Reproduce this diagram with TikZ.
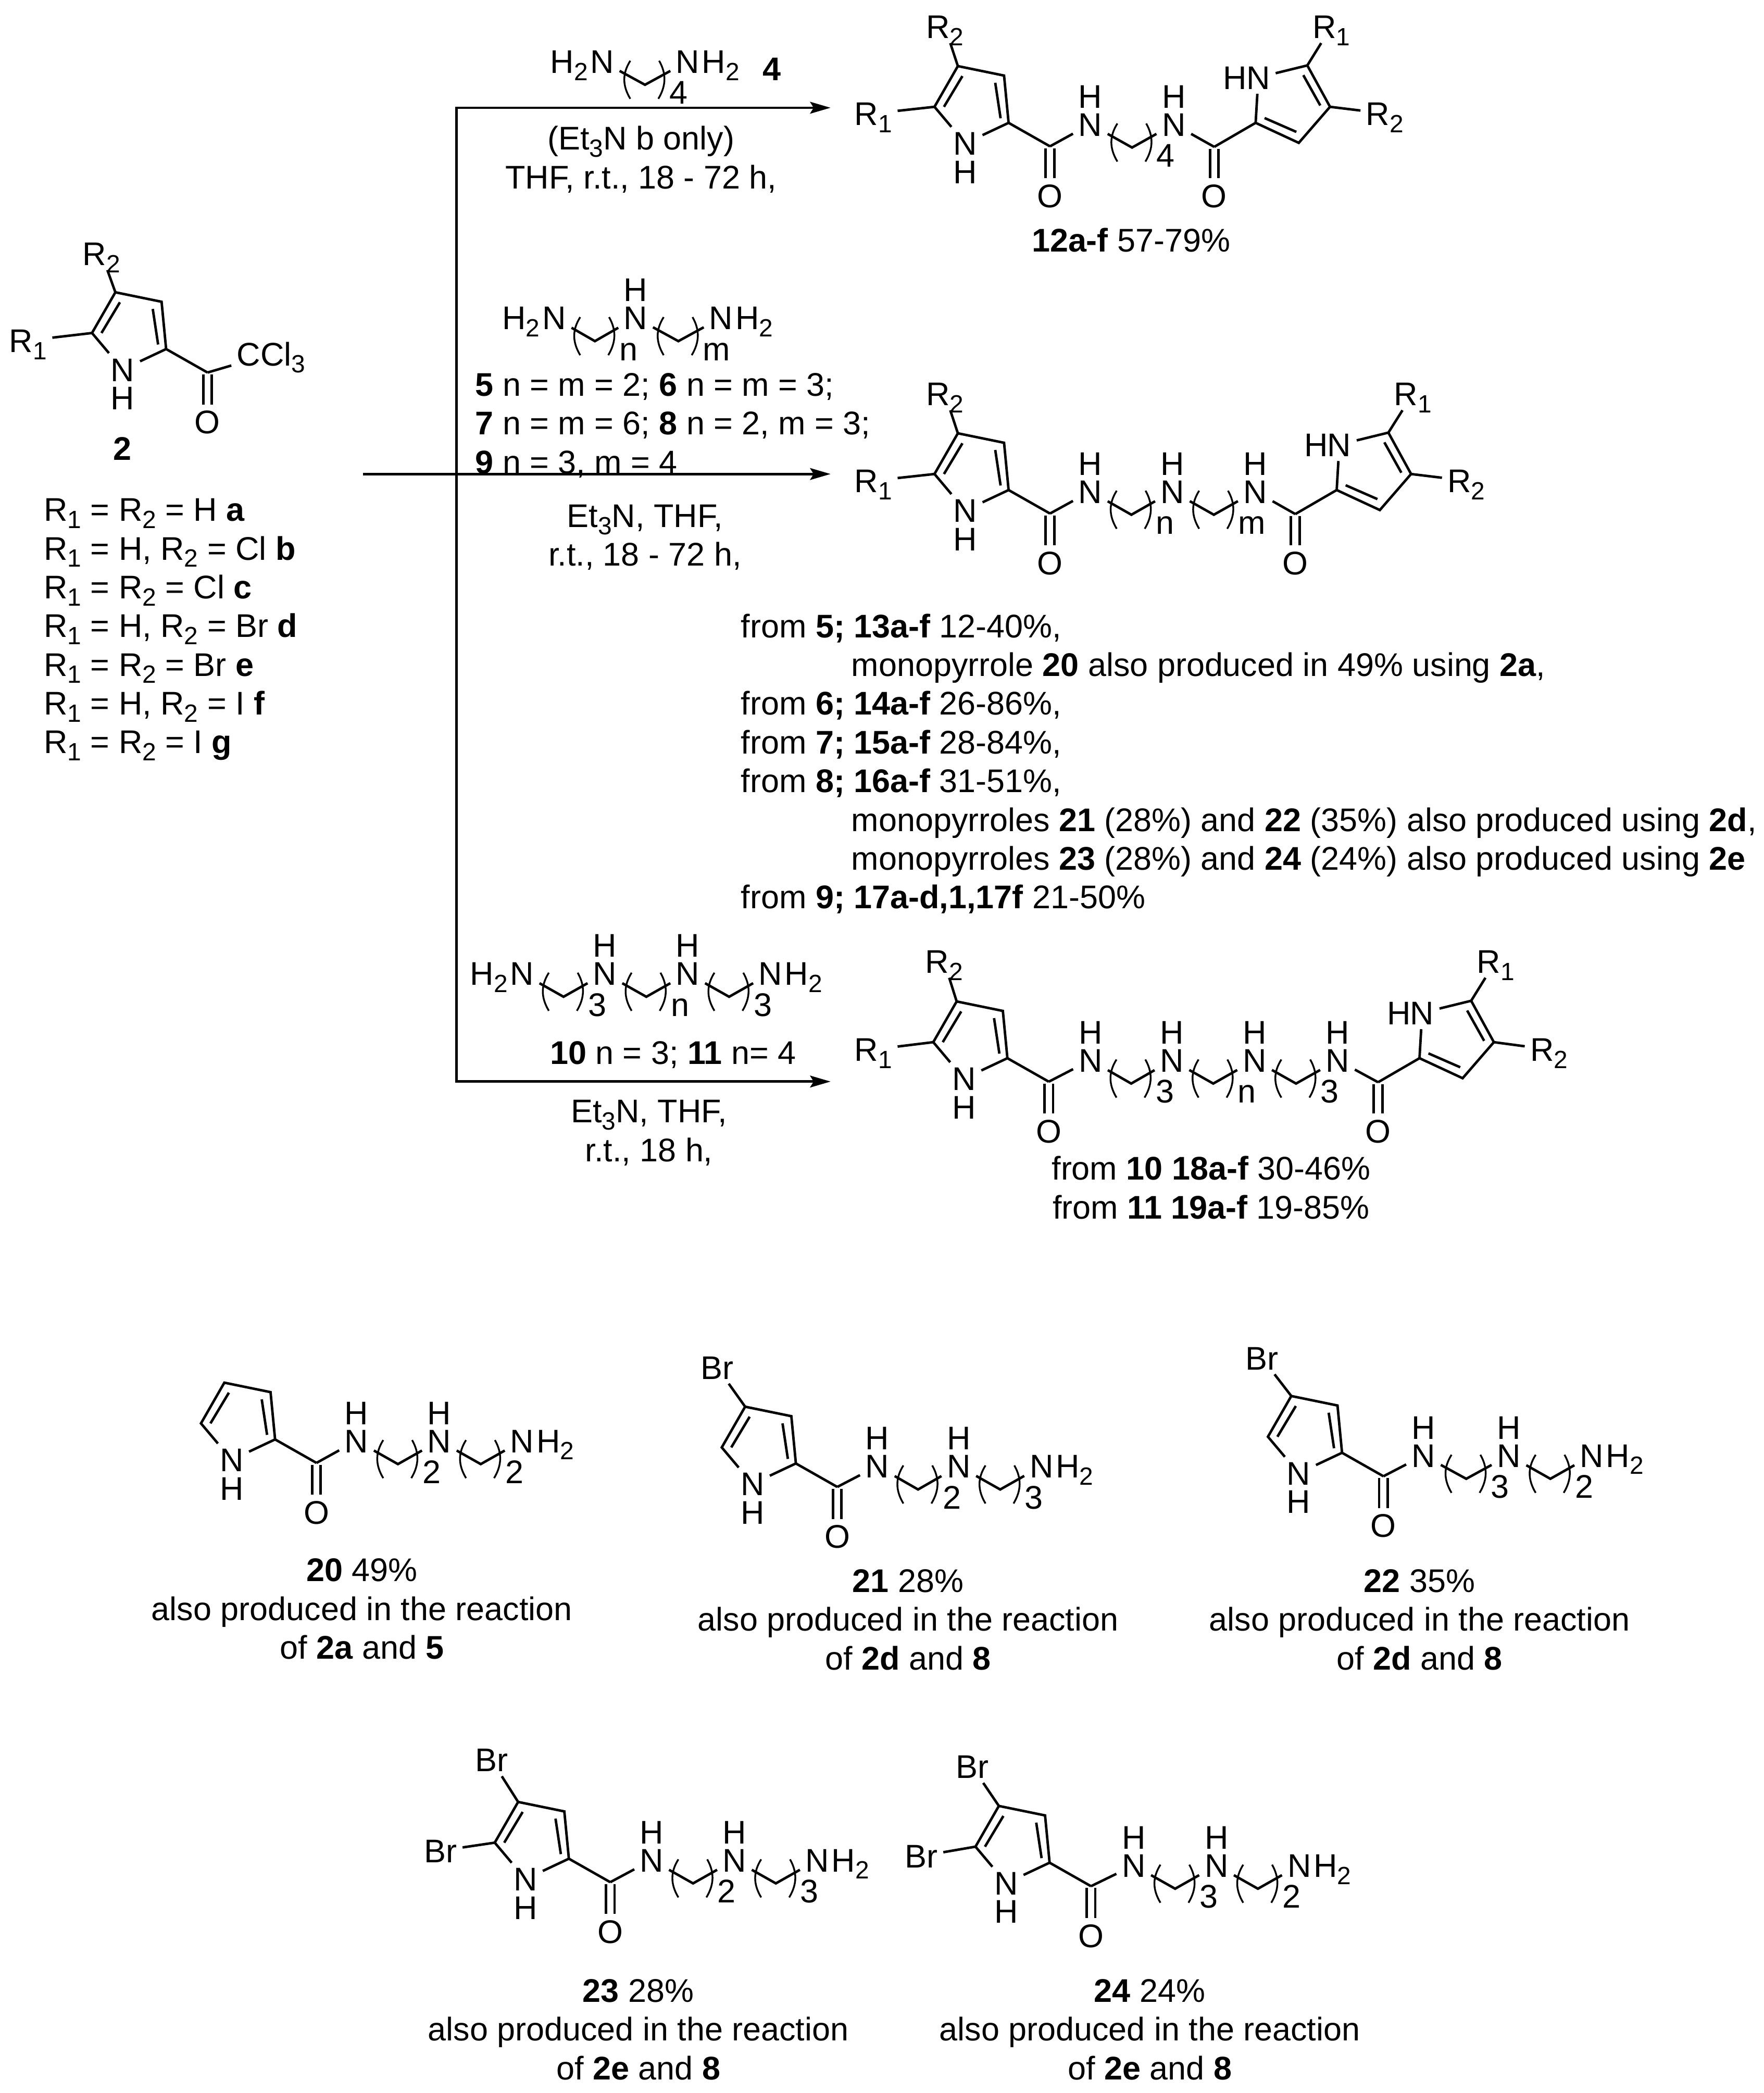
\documentclass[tikz,border=0pt]{standalone}
\usepackage{fontspec}
\setmainfont{Liberation Sans}
\usetikzlibrary{calc,arrows.meta}

\newcommand{\sbs}[1]{\raisebox{-4pt}{\fontsize{14}{14}\selectfont #1}}
\newcommand{\bodyfont}{\fontsize{18.4}{21.75}\selectfont}

\tikzset{
  every picture/.style={line width=1.4pt},
  bond/.style={line width=1.4pt,line join=miter},
  brack/.style={line width=1pt},
  atom/.style={font=\bodyfont,inner xsep=2.4pt,inner ysep=1.9pt,text height=13.2pt,text depth=0pt},
  hatoms/.style={font=\bodyfont,inner sep=0pt},
  chainsub/.style={font=\bodyfont,inner sep=0pt},
  txt/.style={font=\bodyfont,inner sep=0pt},
  rxnarrow/.style={line width=1.4pt,-{Stealth[length=11.5pt,width=6.6pt,inset=2pt]}}
}

% pyrrole, acyl at right
\newcommand{\pyrL}[3]{%
  \begin{scope}[shift={(#2,#3)},name prefix=#1]
    \coordinate (c2) at (0,0);
    \coordinate (c3) at (-3.4,-35.4);
    \coordinate (c4) at (-38,-42.5);
    \coordinate (c5) at (-55.5,-12);
    \coordinate (CO) at (31,17.6);
    \node[atom] (N1) at (-32.5,15.3) {N};
    \node[atom] (H1) at (-32.5,36.5) {H};
    \node[atom] (O) at (31,54.5) {O};
    \draw[bond] (c2) -- (c3) -- (c4) -- (c5) -- (N1) -- (c2) -- (CO);
    \draw[bond] (-34.6,-35) -- (-48.4,-12);
    \draw[bond] (-10,-30) -- (-6,-3.4);
    \draw[bond] (27.8,19) -- (27.8,41.5);
    \draw[bond] (34.2,19) -- (34.2,41.5);
  \end{scope}}

% pyrrole, acyl at left
\newcommand{\pyrR}[3]{%
  \begin{scope}[shift={(#2,#3)},name prefix=#1]
    \coordinate (c2) at (0,0);
    \coordinate (c3) at (32.3,15);
    \coordinate (c4) at (55.7,-12);
    \coordinate (c5) at (38.7,-43);
    \coordinate (CO) at (-31,18);
    \node[atom] (N1) at (2,-34) {N};
    \node[atom] (H1) at (-15.5,-34) {H};
    \node[atom] (O) at (-31,54.6) {O};
    \draw[bond] (c2) -- (c3) -- (c4) -- (c5) -- (N1) -- (c2) -- (CO);
    \draw[bond] (6.7,-3.6) -- (30.5,6.8);
    \draw[bond] (48.4,-13) -- (35.7,-35.7);
    \draw[bond] (-34.2,19.4) -- (-34.2,41.5);
    \draw[bond] (-27.8,19.4) -- (-27.8,41.5);
  \end{scope}}

% NH with the H above
\newcommand{\nhgroup}[3]{%
  \node[atom] (#1) at (#2,#3) {N};
  \node[atom] (#1H) at (#2,#3-21) {H};}
% terminal amines
\newcommand{\amineR}[3]{%
  \node[atom] (#1) at (#2,#3) {N};
  \node[hatoms,anchor=base west] (#1H) at ($(#1.base east)+(-3.2,0)$) {H\sbs{2}};}
\newcommand{\amineL}[3]{%
  \node[atom] (#1) at (#2,#3) {N};
  \node[hatoms,anchor=base east] (#1H) at ($(#1.base west)+(3.2,0)$) {H\sbs{2}};}
% (CH2)n between two nitrogens
\newcommand{\chainlink}[3]{%
  \coordinate (#1mid) at ($(#1)!0.5!(#2)$);
  \draw[bond] (#1) -- ($(#1mid)+(0,17.5)$) -- (#2);
  \draw[brack] ($(#1mid)+(-11,-0.5)$) .. controls ($(#1mid)+(-17,9)$) and ($(#1mid)+(-17,18)$) .. ($(#1mid)+(-11,28)$);
  \draw[brack] ($(#1mid)+(10.6,-0.5)$) .. controls ($(#1mid)+(16,9)$) and ($(#1mid)+(16,18)$) .. ($(#1mid)+(10,28)$);
  \node[chainsub,anchor=base west] (#1sub) at ($(#1mid)+(17.5,32)$) {#3};}

\begin{document}
\begin{tikzpicture}[x=0.75pt,y=0.75pt,yscale=-1,xscale=1]
\useasboundingbox (0,0) rectangle (1321,1567.5);

% Compound 2
\pyrL{A}{124.4}{261.4}
\node[atom] (AR2) at (76,190) {R\sbs{2}};
\node[atom] (AR1) at (21,255) {R\sbs{1}};
\node[atom] (ACCl) at (203,265) {CCl\sbs{3}};
\draw[bond] (AR2) -- (Ac4);
\draw[bond] (AR1) -- (Ac5);
\draw[bond] (ACO) -- (ACCl);
\node[txt] (Alabel) at (91.5,336) {\textbf{2}};
\node[txt,align=left,anchor=west] (Alist) at (32,471.5) {%
R\sbs{1} = R\sbs{2} = H \textbf{a}\\
R\sbs{1} = H, R\sbs{2} = Cl \textbf{b}\\
R\sbs{1} = R\sbs{2} = Cl \textbf{c}\\
R\sbs{1} = H, R\sbs{2} = Br \textbf{d}\\
R\sbs{1} = R\sbs{2} = Br \textbf{e}\\
R\sbs{1} = H, R\sbs{2} = I \textbf{f}\\
R\sbs{1} = R\sbs{2} = I \textbf{g}};

% Straight Lines
\coordinate (jtop) at (342,80.7);
\coordinate (jbot) at (342,810);
\coordinate (jstart) at (272,355);
\coordinate (etop) at (622,80.7);
\coordinate (emid) at (622,355);
\coordinate (ebot) at (622,810);
\draw[bond,line cap=rect] (jtop) -- (jbot);
\draw[rxnarrow] (jtop) -- (etop);
\draw[rxnarrow] (jstart) -- (emid);
\draw[rxnarrow] (jbot) -- (ebot);

% Amine 4
\amineL{ma}{451}{46}
\amineR{mb}{515}{46}
\chainlink{ma}{mb}{4}
\node[txt] (mlabel) at (578,52) {\textbf{4}};
\node[txt,align=center] (mcond) at (480,119.5) {(Et\sbs{3}N b only)\\THF, r.t., 18 - 72 h,};

% Product 12
\pyrL{B}{755.3}{92}
\pyrR{C}{940.3}{92}
\nhgroup{bn}{816.5}{93}
\nhgroup{bo}{879}{93}
\draw[bond] (BCO) -- (bn);
\draw[bond] (CCO) -- (bo);
\chainlink{bn}{bo}{4}
\node[atom] (BR2) at (707.6,20) {R\sbs{2}};
\node[atom] (BR1) at (654,85) {R\sbs{1}};
\node[atom] (CR1) at (997,20) {R\sbs{1}};
\node[atom] (CR2) at (1037,85) {R\sbs{2}};
\draw[bond] (BR2) -- (Bc4);
\draw[bond] (BR1) -- (Bc5);
\draw[bond] (CR1) -- (Cc5);
\draw[bond] (CR2) -- (Cc4);
\node[txt] (Blabel) at (847,180) {\textbf{12a-f} 57-79\%};

% Amines 5-9
\amineL{da}{415}{238}
\nhgroup{db}{476}{238}
\amineR{dc}{540}{238}
\chainlink{da}{db}{n}
\chainlink{db}{dc}{m}
\node[txt,align=left,anchor=north west] (dlist) at (355,278.5) {%
\textbf{5} n = m = 2; \textbf{6} n = m = 3;\\
\textbf{7} n = m = 6; \textbf{8} n = 2, m = 3;\\
\textbf{9} n = 3, m = 4};
\node[txt,align=center] (dcond) at (483,402.5) {Et\sbs{3}N, THF,\\r.t., 18 - 72 h,};

% Products 13-17
\pyrL{E}{755.3}{367}
\pyrR{F}{1001}{367}
\nhgroup{en}{816.5}{368}
\nhgroup{eo}{878}{368}
\nhgroup{ep}{940}{368}
\draw[bond] (ECO) -- (en);
\draw[bond] (FCO) -- (ep);
\chainlink{en}{eo}{n}
\chainlink{eo}{ep}{m}
\node[atom] (ER2) at (707.6,295) {R\sbs{2}};
\node[atom] (ER1) at (654,360) {R\sbs{1}};
\node[atom] (FR1) at (1058,295) {R\sbs{1}};
\node[atom] (FR2) at (1098,360) {R\sbs{2}};
\draw[bond] (ER2) -- (Ec4);
\draw[bond] (ER1) -- (Ec5);
\draw[bond] (FR1) -- (Fc5);
\draw[bond] (FR2) -- (Fc4);
\node[txt,align=left,anchor=west] (elist) at (554,572) {%
from \textbf{5; 13a-f} 12-40\%,\\
\hspace*{62pt}monopyrrole \textbf{20} also produced in 49\% using \textbf{2a},\\
from \textbf{6; 14a-f} 26-86\%,\\
from \textbf{7; 15a-f} 28-84\%,\\
from \textbf{8; 16a-f} 31-51\%,\\
\hspace*{62pt}monopyrroles \textbf{21} (28\%) and \textbf{22} (35\%) also produced using \textbf{2d},\\
\hspace*{62pt}monopyrroles \textbf{23} (28\%) and \textbf{24} (24\%) also produced using \textbf{2e}\\
from \textbf{9; 17a-d,1,17f} 21-50\%};

% Amines 10, 11
\amineL{ga}{391}{729}
\nhgroup{gb}{453}{729}
\nhgroup{gc}{515}{729}
\amineR{gd}{577}{729}
\chainlink{ga}{gb}{3}
\chainlink{gb}{gc}{n}
\chainlink{gc}{gd}{3}
\node[txt] (glabel) at (504,790) {\textbf{10} n = 3; \textbf{11} n= 4};
\node[txt,align=center] (gcond) at (486,848.5) {Et\sbs{3}N, THF,\\r.t., 18 h,};

% Products 18, 19
\pyrL{H}{754.4}{792.5}
\pyrR{J}{1063}{792.5}
\nhgroup{hn}{816.6}{794}
\nhgroup{ho}{877.6}{794}
\nhgroup{hp}{939.5}{794}
\nhgroup{hq}{1001.6}{794}
\draw[bond] (HCO) -- (hn);
\draw[bond] (JCO) -- (hq);
\chainlink{hn}{ho}{3}
\chainlink{ho}{hp}{n}
\chainlink{hp}{hq}{3}
\node[atom] (HR2) at (707,720) {R\sbs{2}};
\node[atom] (HR1) at (654,786) {R\sbs{1}};
\node[atom] (JR1) at (1120,720) {R\sbs{1}};
\node[atom] (JR2) at (1160,786) {R\sbs{2}};
\draw[bond] (HR2) -- (Hc4);
\draw[bond] (HR1) -- (Hc5);
\draw[bond] (JR1) -- (Jc5);
\draw[bond] (JR2) -- (Jc4);
\node[txt,align=center] (Hlabel) at (907,889.5) {from \textbf{10 18a-f} 30-46\%\\from \textbf{11 19a-f} 19-85\%};

% Monopyrrole 20
\pyrL{P}{206}{1078}
\nhgroup{pn}{267}{1079}
\nhgroup{po}{329}{1079}
\amineR{pp}{391}{1079}
\draw[bond] (PCO) -- (pn);
\chainlink{pn}{po}{2}
\chainlink{po}{pp}{2}
\node[txt,align=center] (Plabel) at (271,1205) {\textbf{20} 49\%\\also produced in the reaction\\of \textbf{2a} and \textbf{5}};

% Monopyrrole 21
\pyrL{Q}{596}{1096}
\nhgroup{qn}{657}{1098}
\nhgroup{qo}{718}{1098}
\amineR{qp}{780}{1098}
\draw[bond] (QCO) -- (qn);
\chainlink{qn}{qo}{2}
\chainlink{qo}{qp}{3}
\node[atom] (QBr) at (537,1024) {Br};
\draw[bond] (QBr) -- (Qc4);
\node[txt,align=center] (Qlabel) at (680,1213) {\textbf{21} 28\%\\also produced in the reaction\\of \textbf{2d} and \textbf{8}};

% Monopyrrole 22
\pyrL{S}{1005}{1088}
\nhgroup{sn}{1066}{1090}
\nhgroup{so}{1130}{1090}
\amineR{sp}{1192}{1090}
\draw[bond] (SCO) -- (sn);
\chainlink{sn}{so}{3}
\chainlink{so}{sp}{2}
\node[atom] (SBr) at (945,1017) {Br};
\draw[bond] (SBr) -- (Sc4);
\node[txt,align=center] (Slabel) at (1063,1213) {\textbf{22} 35\%\\also produced in the reaction\\of \textbf{2d} and \textbf{8}};

% Monopyrrole 23
\pyrL{T}{426}{1392}
\nhgroup{tn}{488}{1393}
\nhgroup{to}{550}{1393}
\amineR{tp}{612}{1393}
\draw[bond] (TCO) -- (tn);
\chainlink{tn}{to}{2}
\chainlink{to}{tp}{3}
\node[atom] (TBra) at (368,1318) {Br};
\node[atom] (TBrb) at (330,1386) {Br};
\draw[bond] (TBra) -- (Tc4);
\draw[bond] (TBrb) -- (Tc5);
\node[txt,align=center] (Tlabel) at (478,1520) {\textbf{23} 28\%\\also produced in the reaction\\of \textbf{2e} and \textbf{8}};

% Monopyrrole 24
\pyrL{U}{786}{1395}
\nhgroup{un}{849}{1397}
\nhgroup{uo}{911}{1397}
\amineR{up}{973}{1397}
\draw[bond] (UCO) -- (un);
\chainlink{un}{uo}{3}
\chainlink{uo}{up}{2}
\node[atom] (UBra) at (728,1323) {Br};
\node[atom] (UBrb) at (690,1390) {Br};
\draw[bond] (UBra) -- (Uc4);
\draw[bond] (UBrb) -- (Uc5);
\node[txt,align=center] (Ulabel) at (861,1520) {\textbf{24} 24\%\\also produced in the reaction\\of \textbf{2e} and \textbf{8}};

\end{tikzpicture}
\end{document}
